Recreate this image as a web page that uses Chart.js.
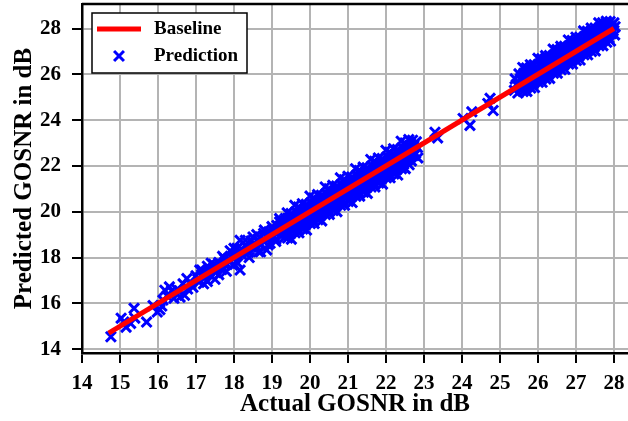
<!DOCTYPE html>
<html>
<head>
<meta charset="utf-8">
<title>Predicted vs actual GOSNR</title>
<script src="https://cdn.jsdelivr.net/npm/chart.js@4/dist/chart.umd.min.js"></script>
<style>
  html, body { margin: 0; padding: 0; background: #fff; }
  #wrap { width: 628px; height: 421px; }
</style>
</head>
<body>
<div id="wrap"><canvas id="gosnr" width="628" height="421"></canvas></div>
<script>
// reference line y = x over the measured range
const baseline = [[14.7, 14.7], [28.0, 28.0]];

// low GOSNR samples (sparse)
const lowPoints = [
  [14.76, 14.54], [15.03, 15.35], [15.10, 15.18], [15.16, 14.96], [15.28, 15.12],
  [15.37, 15.78], [15.39, 15.35], [15.70, 15.18], [15.87, 15.90], [15.98, 15.62],
  [16.05, 15.72], [16.13, 16.14], [16.10, 15.88], [16.18, 16.57], [16.24, 16.32],
  [16.30, 16.72], [16.36, 16.55], [16.42, 16.22], [16.50, 16.60], [16.58, 16.27],
  [16.66, 16.85], [16.70, 16.35], [16.78, 16.62], [16.84, 16.88], [16.76, 17.08],
  [16.92, 16.70], [17.00, 17.20], [17.08, 16.92], [17.15, 17.45], [17.22, 17.10],
  [17.30, 17.62], [17.38, 17.22], [17.46, 17.70], [17.52, 17.35], [17.60, 17.78],
  [17.68, 17.48], [17.75, 17.95], [17.82, 17.70], [17.90, 18.30], [17.97, 17.66],
  [18.02, 18.05], [18.08, 18.40], [18.16, 17.45], [18.16, 18.75], [18.22, 18.10],
  [18.30, 18.55], [18.38, 18.22], [18.45, 18.72], [18.50, 18.90], [18.55, 18.40],
  [18.62, 18.78], [18.70, 18.55], [18.78, 19.05], [18.86, 18.33], [18.95, 18.62],
  [18.92, 19.12], [19.05, 18.90], [19.13, 19.40], [19.20, 19.70], [19.28, 19.15],
  [19.34, 18.90],
  [17.05, 17.05], [17.15, 17.25], [17.25, 17.35], [17.35, 17.40], [17.45, 17.45],
  [17.55, 17.60], [17.65, 17.70], [17.75, 17.70], [17.85, 17.95], [17.95, 18.00],
  [18.05, 18.15], [18.15, 18.20], [18.25, 18.30], [18.35, 18.45], [18.45, 18.45],
  [18.55, 18.60], [18.65, 18.70], [18.75, 18.75], [18.85, 18.95], [18.95, 18.90],
  [19.05, 19.15], [19.15, 19.10], [19.25, 19.40], [19.30, 19.60], [19.10, 18.80],
  [18.40, 18.00], [17.60, 17.25], [17.30, 16.95], [18.70, 18.25],
  [17.10, 17.45], [17.20, 16.85], [17.40, 17.75], [17.50, 17.05], [17.70, 18.05],
  [17.80, 17.40], [18.00, 18.40], [18.10, 17.75], [18.30, 18.75], [18.60, 19.00],
  [18.65, 18.25], [18.80, 19.20], [18.90, 18.55], [19.00, 19.35], [19.10, 18.70],
  [19.20, 19.55], [19.25, 18.95], [19.35, 19.70], [19.35, 19.25]
];

// dense band 19.4 .. 22.9 dB, one row per actual-GOSNR step
const midPoints = [
  [19.40, 19.95], [19.43, 19.70], [19.38, 19.52], [19.44, 19.30], [19.37, 19.05], [19.41, 18.85],
  [19.50, 19.92], [19.53, 19.70], [19.48, 19.47], [19.54, 19.25], [19.47, 19.02], [19.51, 18.80],
  [19.60, 20.28], [19.63, 20.00], [19.58, 19.75], [19.64, 19.55], [19.57, 19.30], [19.61, 19.08],
  [19.70, 20.20], [19.73, 19.95], [19.68, 19.75], [19.74, 19.50], [19.67, 19.28], [19.71, 19.08],
  [19.80, 20.35], [19.83, 20.10], [19.78, 19.92], [19.84, 19.70], [19.77, 19.45], [19.81, 19.25],
  [19.90, 20.32], [19.93, 20.10], [19.88, 19.87], [19.94, 19.65], [19.87, 19.42], [19.91, 19.20],
  [20.00, 20.68], [20.03, 20.40], [19.98, 20.15], [20.04, 19.95], [19.97, 19.70], [20.01, 19.48],
  [20.10, 20.60], [20.13, 20.35], [20.08, 20.15], [20.14, 19.90], [20.07, 19.68], [20.11, 19.48],
  [20.20, 20.75], [20.23, 20.50], [20.18, 20.32], [20.24, 20.10], [20.17, 19.85], [20.21, 19.65],
  [20.30, 20.72], [20.33, 20.50], [20.28, 20.27], [20.34, 20.05], [20.27, 19.82], [20.31, 19.60],
  [20.40, 21.08], [20.43, 20.80], [20.38, 20.55], [20.44, 20.35], [20.37, 20.10], [20.41, 19.88],
  [20.50, 21.00], [20.53, 20.75], [20.48, 20.55], [20.54, 20.30], [20.47, 20.08], [20.51, 19.88],
  [20.60, 21.15], [20.63, 20.90], [20.58, 20.72], [20.64, 20.50], [20.57, 20.25], [20.61, 20.05],
  [20.70, 21.12], [20.73, 20.90], [20.68, 20.67], [20.74, 20.45], [20.67, 20.22], [20.71, 20.00],
  [20.80, 21.48], [20.83, 21.20], [20.78, 20.95], [20.84, 20.75], [20.77, 20.50], [20.81, 20.28],
  [20.90, 21.40], [20.93, 21.15], [20.88, 20.95], [20.94, 20.70], [20.87, 20.48], [20.91, 20.28],
  [21.00, 21.55], [21.03, 21.30], [20.98, 21.12], [21.04, 20.90], [20.97, 20.65], [21.01, 20.45],
  [21.10, 21.52], [21.13, 21.30], [21.08, 21.07], [21.14, 20.85], [21.07, 20.62], [21.11, 20.40],
  [21.20, 21.88], [21.23, 21.60], [21.18, 21.35], [21.24, 21.15], [21.17, 20.90], [21.21, 20.68],
  [21.30, 21.80], [21.33, 21.55], [21.28, 21.35], [21.34, 21.10], [21.27, 20.88], [21.31, 20.68],
  [21.40, 21.95], [21.43, 21.70], [21.38, 21.52], [21.44, 21.30], [21.37, 21.05], [21.41, 20.85],
  [21.50, 21.92], [21.53, 21.70], [21.48, 21.47], [21.54, 21.25], [21.47, 21.02], [21.51, 20.80],
  [21.60, 22.28], [21.63, 22.00], [21.58, 21.75], [21.64, 21.55], [21.57, 21.30], [21.61, 21.08],
  [21.70, 22.20], [21.73, 21.95], [21.68, 21.75], [21.74, 21.50], [21.67, 21.28], [21.71, 21.08],
  [21.80, 22.35], [21.83, 22.10], [21.78, 21.92], [21.84, 21.70], [21.77, 21.45], [21.81, 21.25],
  [21.90, 22.32], [21.93, 22.10], [21.88, 21.87], [21.94, 21.65], [21.87, 21.42], [21.91, 21.20],
  [22.00, 22.68], [22.03, 22.40], [21.98, 22.15], [22.04, 21.95], [21.97, 21.70], [22.01, 21.48],
  [22.10, 22.60], [22.13, 22.35], [22.08, 22.15], [22.14, 21.90], [22.07, 21.68], [22.11, 21.48],
  [22.20, 22.75], [22.23, 22.50], [22.18, 22.32], [22.24, 22.10], [22.17, 21.85], [22.21, 21.65],
  [22.30, 22.72], [22.33, 22.50], [22.28, 22.27], [22.34, 22.05], [22.27, 21.82], [22.31, 21.60],
  [22.40, 23.08], [22.43, 22.80], [22.38, 22.55], [22.44, 22.35], [22.37, 22.10], [22.41, 21.88],
  [22.50, 23.00], [22.53, 22.75], [22.48, 22.55], [22.54, 22.30], [22.47, 22.08], [22.51, 21.88],
  [22.60, 23.15], [22.63, 22.90], [22.58, 22.72], [22.64, 22.50], [22.57, 22.25], [22.61, 22.05],
  [22.70, 23.12], [22.73, 22.90], [22.68, 22.67], [22.74, 22.45], [22.67, 22.22],
  [22.80, 23.05], [22.83, 22.80], [22.78, 22.55], [22.84, 22.35]
];

// isolated samples between the two bands
const gapPoints = [
  [23.29, 23.47], [23.36, 23.22], [24.03, 24.07], [24.21, 23.77],
  [24.26, 24.36], [24.68, 24.73], [24.74, 24.95], [24.82, 24.42]
];

// dense band 25.3 .. 28.1 dB
const highPoints = [
  [25.40, 25.80], [25.43, 25.55], [25.38, 25.30],
  [25.50, 26.02], [25.53, 25.80], [25.48, 25.58], [25.54, 25.38], [25.47, 25.18],
  [25.60, 26.30], [25.63, 26.05], [25.58, 25.85], [25.64, 25.65], [25.57, 25.45], [25.61, 25.25],
  [25.70, 26.28], [25.73, 26.05], [25.68, 25.82], [25.74, 25.62], [25.67, 25.42], [25.71, 25.25],
  [25.80, 26.42], [25.83, 26.20], [25.78, 25.98], [25.84, 25.78], [25.77, 25.58], [25.81, 25.40],
  [25.90, 26.42], [25.93, 26.20], [25.88, 25.98], [25.94, 25.78], [25.87, 25.58], [25.91, 25.42],
  [26.00, 26.70], [26.03, 26.45], [25.98, 26.25], [26.04, 26.05], [25.97, 25.85], [26.01, 25.65],
  [26.10, 26.68], [26.13, 26.45], [26.08, 26.22], [26.14, 26.02], [26.07, 25.82], [26.11, 25.65],
  [26.20, 26.82], [26.23, 26.60], [26.18, 26.38], [26.24, 26.18], [26.17, 25.98], [26.21, 25.80],
  [26.30, 26.82], [26.33, 26.60], [26.28, 26.38], [26.34, 26.18], [26.27, 25.98], [26.31, 25.82],
  [26.40, 27.10], [26.43, 26.85], [26.38, 26.65], [26.44, 26.45], [26.37, 26.25], [26.41, 26.05],
  [26.50, 27.08], [26.53, 26.85], [26.48, 26.62], [26.54, 26.42], [26.47, 26.22], [26.51, 26.05],
  [26.60, 27.22], [26.63, 27.00], [26.58, 26.78], [26.64, 26.58], [26.57, 26.38], [26.61, 26.20],
  [26.70, 27.22], [26.73, 27.00], [26.68, 26.78], [26.74, 26.58], [26.67, 26.38], [26.71, 26.22],
  [26.80, 27.50], [26.83, 27.25], [26.78, 27.05], [26.84, 26.85], [26.77, 26.65], [26.81, 26.45],
  [26.90, 27.48], [26.93, 27.25], [26.88, 27.02], [26.94, 26.82], [26.87, 26.62], [26.91, 26.45],
  [27.00, 27.62], [27.03, 27.40], [26.98, 27.18], [27.04, 26.98], [26.97, 26.78], [27.01, 26.60],
  [27.10, 27.62], [27.13, 27.40], [27.08, 27.18], [27.14, 26.98], [27.07, 26.78], [27.11, 26.62],
  [27.20, 27.90], [27.23, 27.65], [27.18, 27.45], [27.24, 27.25], [27.17, 27.05], [27.21, 26.85],
  [27.30, 27.88], [27.33, 27.65], [27.28, 27.42], [27.34, 27.22], [27.27, 27.02], [27.31, 26.85],
  [27.40, 28.02], [27.43, 27.80], [27.38, 27.58], [27.44, 27.38], [27.37, 27.18], [27.41, 27.00],
  [27.50, 28.02], [27.53, 27.80], [27.48, 27.58], [27.54, 27.38], [27.47, 27.18], [27.51, 27.02],
  [27.60, 28.25], [27.63, 28.05], [27.58, 27.85], [27.64, 27.65], [27.57, 27.45], [27.61, 27.25],
  [27.70, 28.25], [27.73, 28.05], [27.68, 27.82], [27.74, 27.62], [27.67, 27.42], [27.71, 27.25],
  [27.80, 28.32], [27.83, 28.15], [27.78, 27.98], [27.84, 27.78], [27.77, 27.58], [27.81, 27.40],
  [27.90, 28.30], [27.93, 28.12], [27.88, 27.95], [27.94, 27.78], [27.87, 27.58], [27.91, 27.45],
  [28.00, 28.25], [28.03, 28.08], [27.98, 27.90], [28.02, 27.72]
];

const xTicks = [14, 15, 16, 17, 18, 19, 20, 21, 22, 23, 24, 25, 26, 27, 28];
const yTicks = [14, 16, 18, 20, 22, 24, 26, 28];

const toXY = (p) => ({ x: p[0], y: p[1] });
const predictions = lowPoints.concat(midPoints, gapPoints, highPoints).map(toXY);

const serif = "'Liberation Serif', 'Times New Roman', serif";

// frame line along the top of the plot area
const topFrame = {
  id: "topFrame",
  afterDatasetsDraw(chart) {
    const { ctx, chartArea } = chart;
    ctx.save();
    ctx.strokeStyle = "#000";
    ctx.lineWidth = 2.5;
    ctx.beginPath();
    ctx.moveTo(chartArea.left, chartArea.top);
    ctx.lineTo(chartArea.right, chartArea.top);
    ctx.stroke();
    ctx.restore();
  }
};

// boxed legend in the upper left corner
const boxLegend = {
  id: "boxLegend",
  afterDraw(chart) {
    const ctx = chart.ctx;
    const base = chart.data.datasets[0];
    const pred = chart.data.datasets[1];
    ctx.save();
    ctx.fillStyle = "#fff";
    ctx.fillRect(92, 13, 155, 60);
    ctx.strokeStyle = "#000";
    ctx.lineWidth = 1.5;
    ctx.strokeRect(92, 13, 155, 60);

    ctx.strokeStyle = base.borderColor;
    ctx.lineWidth = base.borderWidth;
    ctx.beginPath();
    ctx.moveTo(97, 29);
    ctx.lineTo(141, 29);
    ctx.stroke();

    ctx.strokeStyle = pred.borderColor;
    ctx.lineWidth = pred.borderWidth;
    ctx.beginPath();
    const r = pred.pointRadius * Math.SQRT1_2;
    ctx.moveTo(119 - r, 56 - r); ctx.lineTo(119 + r, 56 + r);
    ctx.moveTo(119 - r, 56 + r); ctx.lineTo(119 + r, 56 - r);
    ctx.stroke();

    ctx.fillStyle = "#000";
    ctx.font = "bold 19px " + serif;
    ctx.textBaseline = "middle";
    ctx.textAlign = "left";
    ctx.fillText(base.label, 154, 29);
    ctx.fillText(pred.label, 154, 56);
    ctx.restore();
  }
};

new Chart(document.getElementById("gosnr"), {
  type: "scatter",
  data: {
    datasets: [
      {
        label: "Baseline",
        data: baseline.map(toXY),
        showLine: true,
        borderColor: "#ff0000",
        borderWidth: 5,
        pointRadius: 0,
        order: 0
      },
      {
        label: "Prediction",
        data: predictions,
        pointStyle: "crossRot",
        pointRadius: 7,
        borderWidth: 3,
        borderColor: "#0000ff",
        backgroundColor: "#0000ff",
        order: 1
      }
    ]
  },
  options: {
    responsive: false,
    animation: false,
    layout: { autoPadding: false, padding: { top: 4, right: 0, left: 0, bottom: 0 } },
    plugins: {
      legend: { display: false },
      tooltip: { enabled: false }
    },
    scales: {
      x: {
        type: "linear",
        min: 14,
        max: 28.37,
        afterFit: (s) => {
          s.height = 68;
          s.paddingLeft = 0;
          s.paddingRight = 0;
        },
        afterBuildTicks: (s) => { s.ticks = xTicks.map((v) => ({ value: v })); },
        border: { color: "#000", width: 2.5 },
        grid: { color: "#b4b4b4", lineWidth: 2, tickColor: "#000", tickWidth: 2, tickLength: 10 },
        ticks: { color: "#000", padding: 8, font: { family: serif, size: 21, weight: "bold" } },
        title: {
          display: true,
          text: "Actual GOSNR in dB",
          color: "#000",
          padding: { top: 0, bottom: 1 },
          font: { family: serif, size: 25, weight: "bold" }
        }
      },
      y: {
        type: "linear",
        min: 13.83,
        max: 29.07,
        afterFit: (s) => {
          s.width = 82;
          s.paddingTop = 0;
          s.paddingBottom = 0;
        },
        afterBuildTicks: (s) => { s.ticks = yTicks.map((v) => ({ value: v })); },
        border: { color: "#000", width: 2.5 },
        grid: { color: "#b4b4b4", lineWidth: 2, tickColor: "#000", tickWidth: 2, tickLength: 10 },
        ticks: { color: "#000", padding: 11, font: { family: serif, size: 21, weight: "bold" } },
        title: {
          display: true,
          text: "Predicted GOSNR in dB",
          color: "#000",
          padding: { top: 10, bottom: 0 },
          font: { family: serif, size: 25, weight: "bold" }
        }
      }
    }
  },
  plugins: [topFrame, boxLegend]
});
</script>
</body>
</html>
